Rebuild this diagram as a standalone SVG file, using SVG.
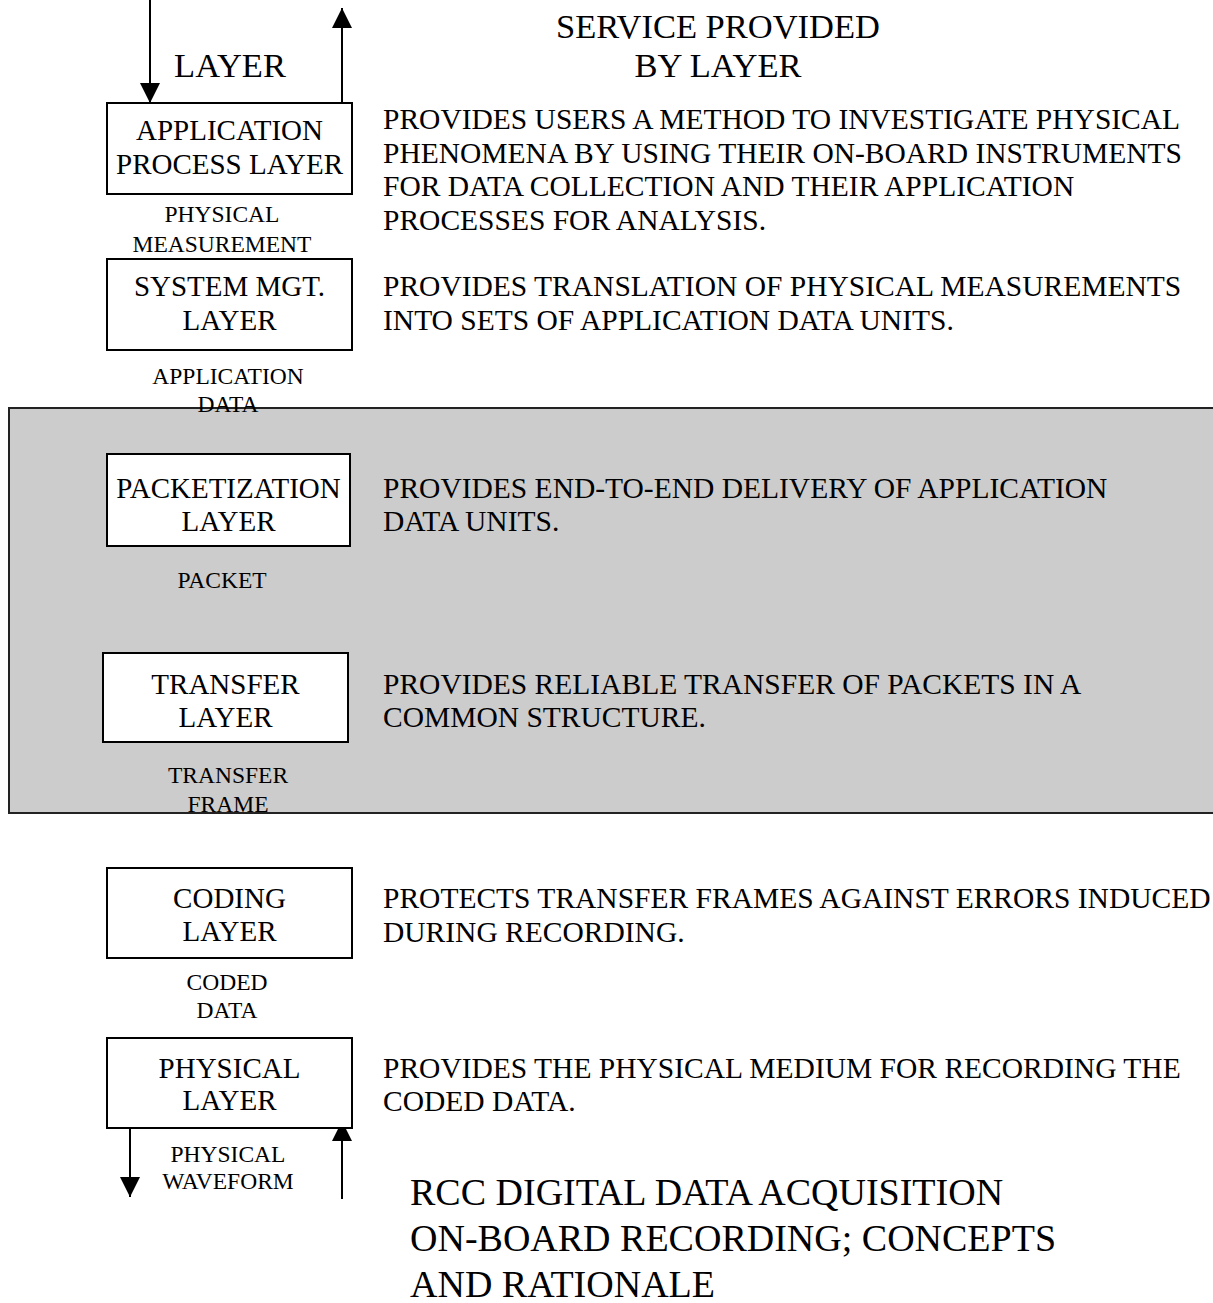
<svg xmlns="http://www.w3.org/2000/svg" width="1213" height="1303" viewBox="0 0 1213 1303">
<style>
  text { font-family: "Liberation Serif", "Times New Roman", serif; fill: #000; }
  .hdr { font-size: 34.5px; text-anchor: middle; }
  .lbl { font-size: 29px; text-anchor: middle; }
  .sm { font-size: 23.5px; text-anchor: middle; }
  .desc { font-size: 29.5px; }
  .ttl { font-size: 38px; }
  .box { fill: #fff; stroke: #000; stroke-width: 2; }
  .conn { stroke: #000; stroke-width: 2; fill: none; }
</style>
<defs>
  <marker id="ah" markerUnits="userSpaceOnUse" markerWidth="20" markerHeight="20" viewBox="0 0 20 20" refX="20" refY="10" orient="auto">
    <path d="M0,0 L20,10 L0,20 Z" fill="#000"/>
  </marker>
</defs>
<rect x="0" y="0" width="1213" height="1303" fill="#fff"/>

<g id="band">
  <rect x="9" y="408" width="1215" height="405" fill="#cccccc" stroke="#222" stroke-width="2"/>
</g>

<g id="header">
  <text class="hdr" x="718" y="38">SERVICE PROVIDED</text>
  <text class="hdr" x="718" y="77">BY LAYER</text>
  <text class="hdr" x="230" y="77">LAYER</text>
</g>

<g id="connectors">
  <line class="conn" x1="150" y1="0" x2="150" y2="103" marker-end="url(#ah)"/>
  <line class="conn" x1="342" y1="107" x2="342" y2="8" marker-end="url(#ah)"/>
  <line class="conn" x1="130" y1="1120" x2="130" y2="1197" marker-end="url(#ah)"/>
  <line class="conn" x1="342" y1="1199" x2="342" y2="1121" marker-end="url(#ah)"/>
</g>

<g id="application">
  <rect class="box" x="107" y="103" width="245" height="91"/>
  <text class="lbl" x="229.5" y="140">APPLICATION</text>
  <text class="lbl" x="229.5" y="174">PROCESS LAYER</text>
  <text class="desc" x="383" y="129">PROVIDES USERS A METHOD TO INVESTIGATE PHYSICAL</text>
  <text class="desc" x="383" y="163">PHENOMENA BY USING THEIR ON-BOARD INSTRUMENTS</text>
  <text class="desc" x="383" y="196">FOR DATA COLLECTION AND THEIR APPLICATION</text>
  <text class="desc" x="383" y="230">PROCESSES FOR ANALYSIS.</text>
</g>
<g id="lbl-physical-measurement">
  <text class="sm" x="222" y="222">PHYSICAL</text>
  <text class="sm" x="222" y="252">MEASUREMENT</text>
</g>

<g id="system">
  <rect class="box" x="107" y="259" width="245" height="91"/>
  <text class="lbl" x="229.5" y="296">SYSTEM MGT.</text>
  <text class="lbl" x="229.5" y="330">LAYER</text>
  <text class="desc" x="383" y="296">PROVIDES TRANSLATION OF PHYSICAL MEASUREMENTS</text>
  <text class="desc" x="383" y="330">INTO SETS OF APPLICATION DATA UNITS.</text>
</g>
<g id="lbl-application-data">
  <text class="sm" x="228" y="384">APPLICATION</text>
  <text class="sm" x="228" y="412">DATA</text>
</g>

<g id="packetization">
  <rect class="box" x="107" y="454" width="243" height="92"/>
  <text class="lbl" x="228.5" y="498">PACKETIZATION</text>
  <text class="lbl" x="228.5" y="531">LAYER</text>
  <text class="desc" x="383" y="498">PROVIDES END-TO-END DELIVERY OF APPLICATION</text>
  <text class="desc" x="383" y="531">DATA UNITS.</text>
</g>
<g id="lbl-packet">
  <text class="sm" x="222" y="588">PACKET</text>
</g>

<g id="transfer">
  <rect class="box" x="103" y="653" width="245" height="89"/>
  <text class="lbl" x="225.5" y="694">TRANSFER</text>
  <text class="lbl" x="225.5" y="727">LAYER</text>
  <text class="desc" x="383" y="694">PROVIDES RELIABLE TRANSFER OF PACKETS IN A</text>
  <text class="desc" x="383" y="727">COMMON STRUCTURE.</text>
</g>
<g id="lbl-transfer-frame">
  <text class="sm" x="228" y="783">TRANSFER</text>
  <text class="sm" x="228" y="812">FRAME</text>
</g>

<g id="coding">
  <rect class="box" x="107" y="868" width="245" height="90"/>
  <text class="lbl" x="229.5" y="908">CODING</text>
  <text class="lbl" x="229.5" y="941">LAYER</text>
  <text class="desc" x="383" y="908">PROTECTS TRANSFER FRAMES AGAINST ERRORS INDUCED</text>
  <text class="desc" x="383" y="942">DURING RECORDING.</text>
</g>
<g id="lbl-coded-data">
  <text class="sm" x="227" y="990">CODED</text>
  <text class="sm" x="227" y="1018">DATA</text>
</g>

<g id="physical">
  <rect class="box" x="107" y="1038" width="245" height="90"/>
  <text class="lbl" x="229.5" y="1078">PHYSICAL</text>
  <text class="lbl" x="229.5" y="1110">LAYER</text>
  <text class="desc" x="383" y="1078">PROVIDES THE PHYSICAL MEDIUM FOR RECORDING THE</text>
  <text class="desc" x="383" y="1111">CODED DATA.</text>
</g>
<g id="lbl-physical-waveform">
  <text class="sm" x="228" y="1162">PHYSICAL</text>
  <text class="sm" x="228" y="1189">WAVEFORM</text>
</g>

<g id="title">
  <text class="ttl" x="410" y="1205">RCC DIGITAL DATA ACQUISITION</text>
  <text class="ttl" x="410" y="1251">ON-BOARD RECORDING; CONCEPTS</text>
  <text class="ttl" x="410" y="1297">AND RATIONALE</text>
</g>
</svg>
